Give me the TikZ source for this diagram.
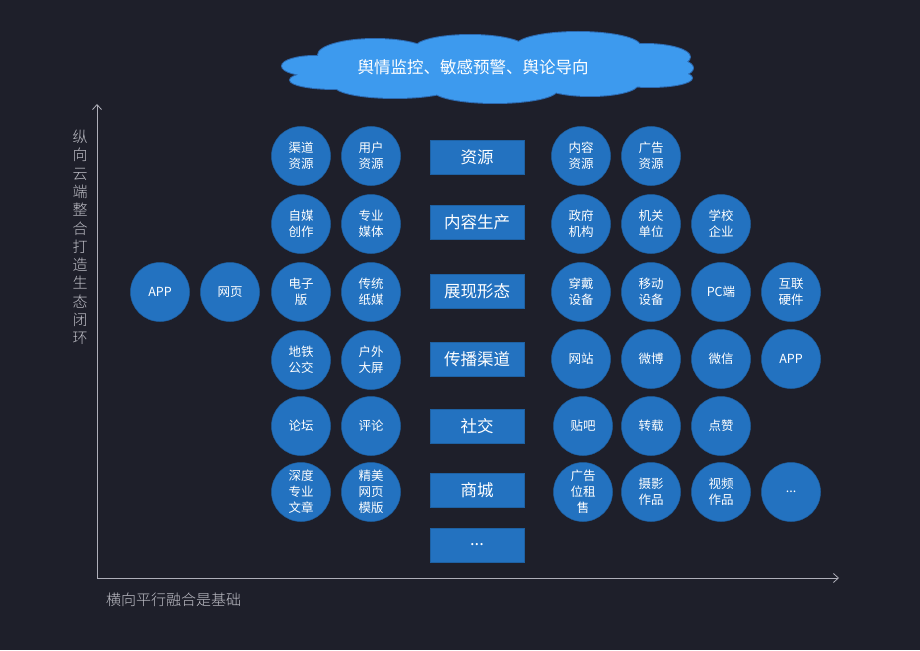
\documentclass[tikz,border=0pt]{standalone}
\usepackage{fontspec}
\newfontfamily\cjk{Noto Sans CJK SC}
\newfontfamily\cjkl{Noto Sans CJK SC Light}
\usetikzlibrary{arrows.meta}
\definecolor{bg}{RGB}{30,31,42}
\definecolor{cblue}{RGB}{35,114,192}
\definecolor{cloudblue}{RGB}{61,154,238}
\definecolor{cloudline}{RGB}{45,105,175}
\definecolor{axisgray}{RGB}{175,175,185}
\tikzset{
  bub/.style={circle,fill=cblue,draw=cblue!85!black,line width=0.5pt,minimum size=59pt,inner sep=0pt,text=white,align=center,font=\cjk\fontsize{12.5}{16}\selectfont},
  catbox/.style={rectangle,fill=cblue,draw=cblue!85!black,line width=0.5pt,minimum width=94pt,minimum height=34pt,inner sep=0pt,text=white,font=\cjk\fontsize{16.5}{20}\selectfont},
  axis/.style={draw=axisgray,line width=0.8pt,-{Straight Barb[length=5pt,width=9pt]}},
  lbl/.style={text=axisgray!80!white,font=\cjkl\fontsize{15}{21}\selectfont,inner sep=0pt}
}
\newcommand{\cloudpuffs}{%
  (487,68) ellipse [x radius=150,y radius=25]
  (375,55) ellipse [x radius=57,y radius=16]
  (470,48) ellipse [x radius=55,y radius=13]
  (578,46) ellipse [x radius=62,y radius=14]
  (645,57) ellipse [x radius=45,y radius=13]
  (315,66) ellipse [x radius=33,y radius=10]
  (335,80) ellipse [x radius=45,y radius=9]
  (665,68) ellipse [x radius=28,y radius=10]
  (650,78) ellipse [x radius=42,y radius=9]
  (395,86) ellipse [x radius=60,y radius=12]
  (495,90) ellipse [x radius=62,y radius=13]
  (590,84) ellipse [x radius=48,y radius=12]}
\begin{document}
\begin{tikzpicture}[x=1pt,y=-1pt]
\fill[bg] (0,0) rectangle (920,650);
\useasboundingbox (0,0) rectangle (920,650);
% cloud
\filldraw[fill=cloudblue,draw=cloudline,line width=2pt] \cloudpuffs;
\fill[cloudblue] \cloudpuffs;
\node[text=white,font=\cjk\fontsize{16.5}{20}\selectfont] (cloudtxt) at (473,67) {舆情监控、敏感预警、舆论导向};
% axes
\coordinate (origin) at (97,578);
\coordinate (ytop) at (97,104);
\coordinate (xend) at (839,578);
\draw[axis] (origin) -- (ytop);
\draw[axis] (origin) -- (xend);
\node[lbl,align=center,font=\cjkl\fontsize{15}{18.3}\selectfont] (ylab) at (80,237.5) {纵\\向\\云\\端\\整\\合\\打\\造\\生\\态\\闭\\环};
\node[lbl,anchor=west] (xlab) at (106,600) {横向平行融合是基础};
% category boxes
\node[catbox] (b1) at (477,157) {资源};
\node[catbox] (b2) at (477,222) {内容生产};
\node[catbox] (b3) at (477,291) {展现形态};
\node[catbox] (b4) at (477,359) {传播渠道};
\node[catbox] (b5) at (477,426) {社交};
\node[catbox] (b6) at (477,490) {商城};
\node[catbox] (b7) at (477,545) {...};
% left bubbles
\node[bub] (l11) at (301,156) {渠道\\资源};
\node[bub] (l12) at (371,156) {用户\\资源};
\node[bub] (l21) at (301,224) {自媒\\创作};
\node[bub] (l22) at (371,224) {专业\\媒体};
\node[bub] (l31) at (301,292) {电子\\版};
\node[bub] (l32) at (371,292) {传统\\纸媒};
\node[bub] (l30) at (230,292) {网页};
\node[bub] (l3a) at (160,292) {APP};
\node[bub] (l41) at (301,360) {地铁\\公交};
\node[bub] (l42) at (371,360) {户外\\大屏};
\node[bub] (l51) at (301,426) {论坛};
\node[bub] (l52) at (371,426) {评论};
\node[bub] (l61) at (301,492) {深度\\专业\\文章};
\node[bub] (l62) at (371,492) {精美\\网页\\模版};
% right bubbles
\node[bub] (r11) at (581,156) {内容\\资源};
\node[bub] (r12) at (651,156) {广告\\资源};
\node[bub] (r21) at (581,224) {政府\\机构};
\node[bub] (r22) at (651,224) {机关\\单位};
\node[bub] (r23) at (721,224) {学校\\企业};
\node[bub] (r31) at (581,292) {穿戴\\设备};
\node[bub] (r32) at (651,292) {移动\\设备};
\node[bub] (r33) at (721,292) {PC端};
\node[bub] (r34) at (791,292) {互联\\硬件};
\node[bub] (r41) at (581,359) {网站};
\node[bub] (r42) at (651,359) {微博};
\node[bub] (r43) at (721,359) {微信};
\node[bub] (r44) at (791,359) {APP};
\node[bub] (r51) at (583,426) {贴吧};
\node[bub] (r52) at (651,426) {转载};
\node[bub] (r53) at (721,426) {点赞};
\node[bub] (r61) at (583,492) {广告\\位租\\售};
\node[bub] (r62) at (651,492) {摄影\\作品};
\node[bub] (r63) at (721,492) {视频\\作品};
\node[bub] (r64) at (791,492) {...};
\end{tikzpicture}
\end{document}
